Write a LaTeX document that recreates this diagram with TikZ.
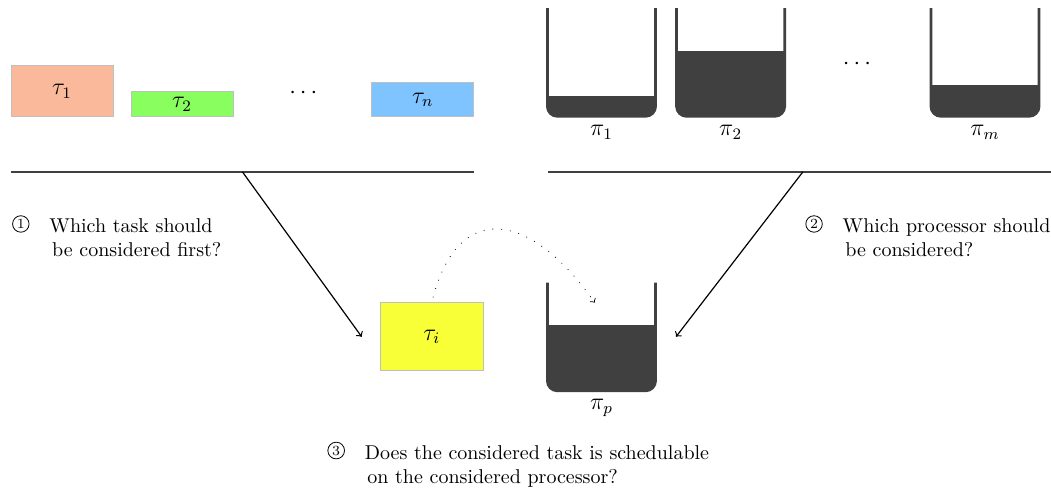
\documentclass[tikz,border=0pt]{standalone}
\usepackage{tikz}
\usetikzlibrary{positioning}

\definecolor{taskorange}{RGB}{250,185,155}
\definecolor{taskgreen}{RGB}{136,255,95}
\definecolor{taskblue}{RGB}{128,196,255}
\definecolor{taskyellow}{RGB}{248,255,54}
\definecolor{procgray}{RGB}{64,64,64}

\newcommand*{\circlednum}[1]{\tikz[baseline={([yshift=-2pt]c.base)}]\node[circle,draw,inner sep=0.75pt,font=\scriptsize] (c) {#1};}

\begin{document}
\begin{tikzpicture}[
    task/.style={draw=black!25, minimum width=1.79cm, inner sep=0pt, anchor=south, font=\large},
    proc/.style={minimum width=1.9cm, minimum height=1.9cm, inner sep=0pt, outer sep=0pt},
    wall/.style={draw=procgray, line width=1.4pt, rounded corners=5pt},
    sepline/.style={draw=black!75, line width=0.9pt},
    question/.style={align=left, anchor=north west}
]
    \useasboundingbox (0,0) rectangle (18.47,-8.58);

    % Tasks
    \node[task, fill=taskorange, minimum height=0.9cm] (t1) at (1.09,-2.06) {$\tau_1$};
    \node[task, fill=taskgreen, minimum height=0.44cm] (t2) at (3.20,-2.06) {$\tau_2$};
    \node[font=\large] (tdots) at (5.33,-1.64) {$\cdots$};
    \node[task, fill=taskblue, minimum height=0.6cm] (tn) at (7.43,-2.06) {$\tau_n$};

    % Processors
    \node[proc] (p1) at (10.57,-1.094) {};
    \node[proc] (p2) at (12.84,-1.094) {};
    \node[font=\large] (pdots) at (15.06,-1.12) {$\cdots$};
    \node[proc] (pm) at (17.31,-1.094) {};
    \node[proc] (pp) at (10.57,-5.918) {};
    \foreach \p/\lvl in {p1/0.36cm, p2/1.15cm, pm/0.55cm, pp/1.15cm} {
        \begin{scope}
            \clip[rounded corners=5pt] (\p.north west) -- (\p.south west) -- (\p.south east) -- (\p.north east) -- cycle;
            \fill[procgray] (\p.south west) rectangle ([yshift=\lvl]\p.south east);
        \end{scope}
        \draw[wall] (\p.north west) -- (\p.south west) -- (\p.south east) -- (\p.north east);
    }
    \node[below=0.03cm of p1, font=\large] (p1lab) {$\pi_1$};
    \node[below=0.03cm of p2, font=\large] (p2lab) {$\pi_2$};
    \node[below=0.03cm of pm, font=\large] (pmlab) {$\pi_m$};
    \node[below=0.03cm of pp, font=\large] (pplab) {$\pi_p$};

    % Separators
    \draw[sepline] (0.19,-3.02) -- coordinate[midway] (tmid) (8.33,-3.02);
    \draw[sepline] (9.63,-3.02) -- coordinate[midway] (pmid) (18.59,-3.02);

    % Selected task
    \node[task, fill=taskyellow, minimum width=1.81cm, minimum height=1.2cm, left=1.12cm of pp] (ti) {$\tau_i$};

    % Connections
    \draw[->, semithick] (tmid) -- ([xshift=-0.32cm]ti.west);
    \draw[->, semithick] (pmid) -- ([xshift=0.36cm]pp.east);
    \draw[->, loosely dotted, shorten <=2.5pt] (ti.north) to[out=75, in=125, looseness=1.7] ([xshift=-0.12cm, yshift=-0.35cm]pp.north);

    % Questions
    \node[question] (q1) at (0.09,-3.66) {\circlednum{1}\quad Which task should\\\hspace*{2em}be considered first?};
    \node[question] (q2) at (14.03,-3.66) {\circlednum{2}\quad Which processor should\\\hspace*{2em}be considered?};
    \node[question] (q3) at (5.63,-7.64) {\circlednum{3}\quad Does the considered task is schedulable\\\hspace*{2em}on the considered processor?};
\end{tikzpicture}
\end{document}
